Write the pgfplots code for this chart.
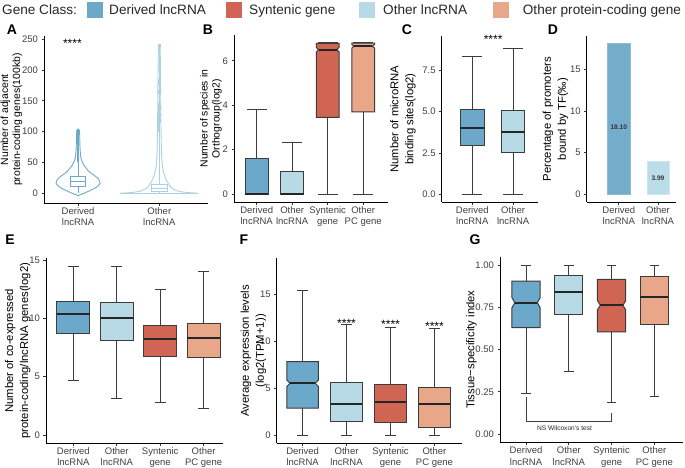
\documentclass[border=0pt]{standalone}
\usepackage{pgfplots}
\usepackage{pgfplotstable}
\pgfplotsset{compat=1.18}
\usepackage{fontspec}
\setmainfont{Liberation Sans}

\definecolor{cDer}{RGB}{108,168,202}
\definecolor{cSyn}{RGB}{208,101,84}
\definecolor{cOth}{RGB}{183,218,230}
\definecolor{cPC}{RGB}{233,167,138}
\definecolor{cOthV}{RGB}{170,210,226}
\definecolor{barDer}{RGB}{116,173,203}
\definecolor{barDerE}{RGB}{140,190,215}
\definecolor{barOth}{RGB}{187,221,233}
\definecolor{barOthE}{RGB}{205,230,240}
\definecolor{lineg}{RGB}{60,60,60}

\tikzset{
  whisk/.style={draw=lineg, line width=0.9pt},
  boxs/.style={draw=lineg, line width=1pt},
  medl/.style={draw=black!85, line width=2pt},
}

\pgfplotsset{
  gg/.style={
    scale only axis, clip=false, anchor=south west,
    axis lines=left, axis line style={-, line width=0.9pt, black},
    tick style={line width=0.7pt, color=black!80},
    tick align=outside, major tick length=2.5pt,
    tick label style={font=\fontsize{9.5}{11.5}\selectfont, text=black!75},
    xticklabel style={align=center, yshift=2pt},
    label style={font=\fontsize{11.3}{15}\selectfont, align=center},
    /pgf/number format/assume math mode=true,
  },
}

% box half width and whisker cap half width are set per panel
\def\bw{0.3}
\def\cw{0.1}
% #1 x, #2 lower, #3 q1, #4 median, #5 q3, #6 upper, #7 notch, #8 fill
\newcommand{\bx}[8]{%
  \pgfmathsetmacro\bxL{#1-\bw}%
  \pgfmathsetmacro\bxR{#1+\bw}%
  \pgfmathsetmacro\bxF{(#7>0) ? 0.8 : 1}%
  \pgfmathsetmacro\bxNL{#1-\bxF*\bw}%
  \pgfmathsetmacro\bxNR{#1+\bxF*\bw}%
  \pgfmathsetmacro\bxA{#4-#7}%
  \pgfmathsetmacro\bxB{#4+#7}%
  \pgfmathsetmacro\bxCL{#1-\cw}%
  \pgfmathsetmacro\bxCR{#1+\cw}%
  \addplot[whisk] coordinates {(#1,#5) (#1,#6)};
  \addplot[whisk] coordinates {(\bxCL,#6) (\bxCR,#6)};
  \addplot[whisk] coordinates {(#1,#3) (#1,#2)};
  \addplot[whisk] coordinates {(\bxCL,#2) (\bxCR,#2)};
  \addplot[boxs, fill=#8] coordinates {(\bxL,#3) (\bxR,#3) (\bxR,\bxA) (\bxNR,#4) (\bxR,\bxB) (\bxR,#5) (\bxL,#5) (\bxL,\bxB) (\bxNL,#4) (\bxL,\bxA)} -- cycle;
  \addplot[medl] coordinates {(\bxNL,#4) (\bxNR,#4)};
}

% violin outlines: value, half width (axis units)
\pgfplotstableread{
y h
-4 0
-2 0.031
0 0.074
3 0.123
6 0.172
9 0.216
12 0.246
16 0.271
20 0.265
24 0.246
28 0.209
32 0.166
36 0.129
40 0.105
45 0.074
50 0.055
55 0.039
60 0.032
70 0.025
80 0.022
90 0.02
98 0.018
104 0
}\vDer

\pgfplotstableread{
y h
0 0.48
1 0.369
2 0.296
3 0.246
5 0.203
8 0.160
12 0.129
16 0.111
20 0.092
25 0.074
30 0.062
40 0.043
50 0.034
70 0.027
100 0.022
150 0.018
200 0.015
236 0.01
240 0
}\vOth

\begin{document}
\begin{tikzpicture}
\path[use as bounding box] (0,0) rectangle (685pt,468pt);

% legend
\begin{scope}[every node/.style={font=\fontsize{13.6}{16}\selectfont, anchor=base west, inner sep=0pt, text=black!85}]
\node at (2pt,453pt) {Gene Class:};
\fill[cDer] (87.3pt,450pt) rectangle ++(16pt,16pt);
\node at (109pt,453pt) {Derived lncRNA};
\fill[cSyn] (225.8pt,450pt) rectangle ++(16pt,16pt);
\node at (249pt,453pt) {Syntenic gene};
\fill[cOth] (359.4pt,450pt) rectangle ++(16pt,16pt);
\node at (383pt,453pt) {Other lncRNA};
\fill[cPC] (492.6pt,450pt) rectangle ++(16pt,16pt);
\node at (522.7pt,453pt) {Other protein-coding gene};
\end{scope}

% panel letters
\begin{scope}[every node/.style={font=\bfseries\fontsize{14}{14}\selectfont, inner sep=0pt}]
\node at (12pt,438pt) {A};
\node at (208pt,438pt) {B};
\node at (407pt,438pt) {C};
\node at (553pt,438pt) {D};
\node at (10pt,228pt) {E};
\node at (244pt,228pt) {F};
\node at (475pt,228pt) {G};
\end{scope}

% A
\begin{axis}[gg, at={(44pt,264.7pt)}, width=164pt, height=167.3pt,
  xmin=0.58, xmax=2.6, ymin=-16.2, ymax=255,
  xtick={1,2}, xticklabels={Derived\\lncRNA, Other\\lncRNA},
  ytick={0,50,100,150,200,250},
  ylabel style={font=\fontsize{10.4}{12}\selectfont, yshift=-7pt},
  ylabel={Number of adjacent\\protein-coding genes(100kb)}]
\addplot[draw=cDer, line width=0.9pt, smooth] table[x expr=1+\thisrow{h}, y=y] {\vDer};
\addplot[draw=cDer, line width=0.9pt, smooth] table[x expr=1-\thisrow{h}, y=y] {\vDer};
\addplot[draw=cOthV, line width=0.9pt, smooth] table[x expr=2+\thisrow{h}, y=y] {\vOth};
\addplot[draw=cOthV, line width=0.9pt, smooth] table[x expr=2-\thisrow{h}, y=y] {\vOth};
\addplot[draw=cOthV, line width=0.9pt] coordinates {(1.52,0) (2.48,0)};
% derived box
\addplot[draw=cDer, line width=0.9pt] coordinates {(1,11) (1,0)};
\addplot[draw=cDer, line width=0.9pt] coordinates {(1,27) (1,50)};
\addplot[draw=cDer, line width=1.8pt] coordinates {(1,50) (1,104)};
\addplot[only marks, mark=*, mark size=1.6pt, cDer] coordinates {(1,97) (1,100) (1,102)};
\addplot[draw=cDer, line width=0.9pt, fill=white] coordinates {(0.91,11) (1.09,11) (1.09,27) (0.91,27)} -- cycle;
\addplot[draw=cDer, line width=0.9pt] coordinates {(0.91,19) (1.09,19)};
% other box
\addplot[draw=cOthV, line width=0.9pt] coordinates {(2,3) (2,0)};
\addplot[draw=cOthV, line width=0.9pt] coordinates {(2,14) (2,240)};
\addplot[draw=cOthV, line width=1.8pt] coordinates {(2,100) (2,145)};
\addplot[only marks, mark=square*, mark size=1.4pt, cOthV] coordinates {(2,240) (2,183) (2,179) (2,165) (2,143) (2,138) (2,128) (2,118)};
\addplot[draw=cOthV, line width=0.9pt, fill=white] coordinates {(1.9,3) (2.1,3) (2.1,14) (1.9,14)} -- cycle;
\addplot[draw=cOthV, line width=0.9pt] coordinates {(1.9,8) (2.1,8)};
\node[font=\fontsize{12}{12}\selectfont, anchor=base] at (axis cs:0.93,236) {****};
\end{axis}

% B
\def\bw{0.32}\def\cw{0.28}
\begin{axis}[gg, at={(234pt,265.7pt)}, width=154pt, height=167.3pt,
  xmin=0.36, xmax=4.7, ymin=-0.37, ymax=7.16,
  xtick={1,2,3,4}, xticklabels={Derived\\lncRNA, Other\\lncRNA, Syntenic\\gene, Other\\PC gene},
  ytick={0,2,4,6},
  ylabel style={font=\fontsize{10.4}{12}\selectfont, yshift=-6pt},
  ylabel={Number of species in\\Orthogroup(log2)}]
\bx{1}{0}{0}{0}{1.58}{3.8}{0}{cDer}
\bx{2}{0}{0}{0}{1.0}{2.32}{0}{cOth}
\bx{3}{0}{3.45}{6.5}{6.78}{6.83}{0.1}{cSyn}
\bx{4}{0}{3.7}{6.65}{6.79}{6.83}{0.08}{cPC}
\end{axis}

% C
\def\bw{0.29}\def\cw{0.245}
\begin{axis}[gg, at={(441.7pt,265.7pt)}, width=96.3pt, height=166.3pt,
  xmin=0.25, xmax=2.61, ymin=-0.48, ymax=9.55,
  xtick={1,2}, xticklabels={Derived\\lncRNA, Other\\lncRNA},
  ytick={0,2.5,5,7.5},
  yticklabel style={/pgf/number format/.cd, fixed, fixed zerofill, precision=1},
  ylabel style={yshift=0pt},
  ylabel={Number of microRNA\\binding sites(log2)}]
\bx{1}{0}{2.97}{4.02}{5.13}{8.34}{0}{cDer}
\bx{2}{0}{2.53}{3.78}{5.08}{8.8}{0}{cOth}
\node[font=\fontsize{12}{12}\selectfont, anchor=base] at (axis cs:1.51,9.08) {****};
\end{axis}

% D
\begin{axis}[gg, at={(586.7pt,265.7pt)}, width=89.3pt, height=166.3pt,
  xmin=0.18, xmax=2.46, ymin=-0.96, ymax=19,
  xtick={1,2}, xticklabels={Derived\\lncRNA, Other\\lncRNA},
  ytick={0,5,10,15},
  ylabel style={yshift=-5pt},
  ylabel={Percentage of promoters\\bound by TF(‰)}]
\addplot[ybar, bar width=0.57, fill=barDer, draw=barDerE] coordinates {(1,18.10)};
\addplot[ybar, bar width=0.57, fill=barOth, draw=barOthE] coordinates {(2,3.99)};
\node[font=\bfseries\fontsize{6.6}{7}\selectfont, text=black!80] at (axis cs:1,8.1) {18.10};
\node[font=\bfseries\fontsize{6.6}{7}\selectfont, text=black!80] at (axis cs:2,1.9) {3.99};
\end{axis}

% E
\def\bw{0.38}\def\cw{0.127}
\begin{axis}[gg, at={(46pt,24.7pt)}, width=176.7pt, height=185pt,
  xmin=0.37, xmax=4.44, ymin=-0.71, ymax=15.14,
  xtick={1,2,3,4}, xticklabels={Derived\\lncRNA, Other\\lncRNA, Syntenic\\gene, Other\\PC gene},
  ytick={0,5,10,15},
  ylabel style={yshift=-8pt},
  ylabel={Number of co-expressed\\protein-coding/lncRNA genes(log2)}]
\bx{1}{4.71}{8.71}{10.37}{11.43}{14.43}{0}{cDer}
\bx{2}{3.14}{8.06}{10.06}{11.34}{14.43}{0}{cOth}
\bx{3}{2.77}{6.71}{8.26}{9.4}{12.43}{0}{cSyn}
\bx{4}{2.29}{6.63}{8.34}{9.57}{14.0}{0}{cPC}
\end{axis}

% F
\def\bw{0.36}\def\cw{0.12}
\begin{axis}[gg, at={(276.7pt,24.7pt)}, width=185pt, height=185pt,
  xmin=0.41, xmax=4.62, ymin=-0.88, ymax=18.8,
  xtick={1,2,3,4}, xticklabels={Derived\\lncRNA, Other\\lncRNA, Syntenic\\gene, Other\\PC gene},
  ytick={0,5,10,15},
  ylabel style={yshift=-13pt},
  ylabel={Average expression levels\\(log2(TPM+1))}]
\bx{1}{0}{2.85}{5.51}{7.82}{15.35}{0.35}{cDer}
\bx{2}{0}{1.42}{3.3}{5.58}{11.73}{0}{cOth}
\bx{3}{0}{1.31}{3.55}{5.4}{11.44}{0}{cSyn}
\bx{4}{0}{0.82}{3.27}{5.04}{11.3}{0}{cPC}
\node[font=\fontsize{12}{12}\selectfont, anchor=base] at (axis cs:2,11.46) {****};
\node[font=\fontsize{12}{12}\selectfont, anchor=base] at (axis cs:3,11.3) {****};
\node[font=\fontsize{12}{12}\selectfont, anchor=base] at (axis cs:4,11.09) {****};
\end{axis}

% G
\def\bw{0.33}\def\cw{0.11}
\begin{axis}[gg, at={(500pt,25.3pt)}, width=183pt, height=186pt,
  xmin=0.39, xmax=4.67, ymin=-0.051, ymax=1.049,
  xtick={1,2,3,4}, xticklabels={Derived\\lncRNA, Other\\lncRNA, Syntenic\\gene, Other\\PC gene},
  ytick={0,0.25,0.5,0.75,1},
  yticklabel style={/pgf/number format/.cd, fixed, fixed zerofill, precision=2},
  ylabel style={yshift=-8pt},
  ylabel={Tissue−specificity index}]
\bx{1}{0.241}{0.629}{0.777}{0.905}{1.0}{0.03}{cDer}
\bx{2}{0.373}{0.71}{0.842}{0.935}{1.0}{0}{cOth}
\bx{3}{0.185}{0.605}{0.762}{0.915}{1.0}{0.027}{cSyn}
\bx{4}{0.225}{0.649}{0.809}{0.931}{1.0}{0}{cPC}
\addplot[draw=black!75, line width=0.6pt] coordinates {(1,0.221) (1,0.073) (3,0.073) (3,0.126)};
\node[font=\fontsize{6.6}{7}\selectfont, text=black!85] at (axis cs:1.9,0.037) {NS Wilcoxon's test};
\end{axis}
\end{tikzpicture}
\end{document}
